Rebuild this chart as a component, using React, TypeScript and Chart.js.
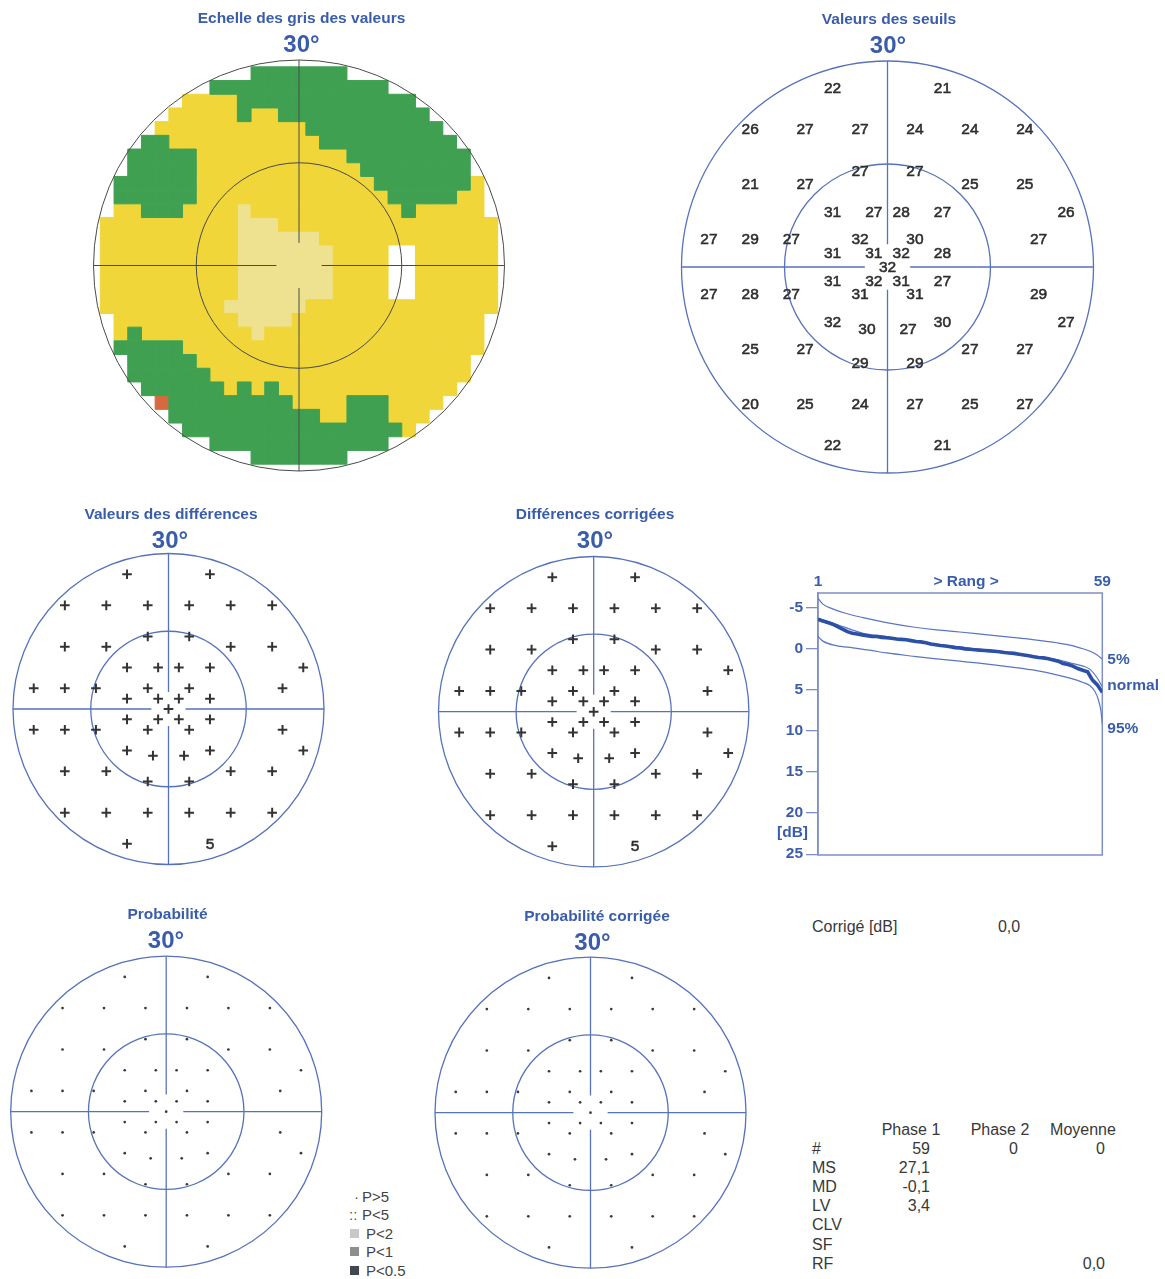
import React, { useEffect, useRef } from "react";
import { Chart, registerables } from "chart.js";

Chart.register(...registerables);

const FONT = '"Liberation Sans", Arial, Helvetica, sans-serif';
const TITLE_BLUE = "#3a5dab";
const LINE_BLUE = "#5672ba";
const INK = "#2e2e2e";
const FRAME = "#7d90c8";
const BEBIE_THIN = "#5a76c0";
const BEBIE_THICK = "#2c50a6";

// ---- 59-point test pattern (degrees) ----
const POINT_X = [
  -8, 8,
  -20, -12, -4, 4, 12, 20,
  -4, 4,
  -20, -12, 12, 20,
  -8, -2, 2, 8, 26,
  -26, -20, -14, -4, 4, 22,
  -8, -2, 2, 8,
  0,
  -8, -2, 2, 8,
  -26, -20, -14, -4, 4, 22,
  -8, 8, 26,
  -3, 3,
  -20, -12, 12, 20,
  -4, 4,
  -20, -12, -4, 4, 12, 20,
  -8, 8,
];
const POINT_Y = [
  26, 26,
  20, 20, 20, 20, 20, 20,
  14, 14,
  12, 12, 12, 12,
  8, 8, 8, 8, 8,
  4, 4, 4, 4, 4, 4,
  2, 2, 2, 2,
  0,
  -2, -2, -2, -2,
  -4, -4, -4, -4, -4, -4,
  -8, -8, -8,
  -9, -9,
  -12, -12, -12, -12,
  -14, -14,
  -20, -20, -20, -20, -20, -20,
  -26, -26,
];
const THRESHOLDS = [
  22, 21,
  26, 27, 27, 24, 24, 24,
  27, 27,
  21, 27, 25, 25,
  31, 27, 28, 27, 26,
  27, 29, 27, 32, 30, 27,
  31, 31, 32, 28,
  32,
  31, 32, 31, 27,
  27, 28, 27, 31, 31, 29,
  32, 30, 27,
  30, 27,
  25, 27, 27, 27,
  29, 29,
  20, 25, 24, 27, 25, 27,
  22, 21,
];
const DIFFERENCES = [
  "+", "+",
  "+", "+", "+", "+", "+", "+",
  "+", "+",
  "+", "+", "+", "+",
  "+", "+", "+", "+", "+",
  "+", "+", "+", "+", "+", "+",
  "+", "+", "+", "+",
  "+",
  "+", "+", "+", "+",
  "+", "+", "+", "+", "+", "+",
  "+", "+", "+",
  "+", "+",
  "+", "+", "+", "+",
  "+", "+",
  "+", "+", "+", "+", "+", "+",
  "+", "5",
];
const CORRECTED_DIFFERENCES = [
  "+", "+",
  "+", "+", "+", "+", "+", "+",
  "+", "+",
  "+", "+", "+", "+",
  "+", "+", "+", "+", "+",
  "+", "+", "+", "+", "+", "+",
  "+", "+", "+", "+",
  "+",
  "+", "+", "+", "+",
  "+", "+", "+", "+", "+", "+",
  "+", "+", "+",
  "+", "+",
  "+", "+", "+", "+",
  "+", "+",
  "+", "+", "+", "+", "+", "+",
  "+", "5",
];
const PROBABILITY = [
  "·", "·",
  "·", "·", "·", "·", "·", "·",
  "·", "·",
  "·", "·", "·", "·",
  "·", "·", "·", "·", "·",
  "·", "·", "·", "·", "·", "·",
  "·", "·", "·", "·",
  "·",
  "·", "·", "·", "·",
  "·", "·", "·", "·", "·", "·",
  "·", "·", "·",
  "·", "·",
  "·", "·", "·", "·",
  "·", "·",
  "·", "·", "·", "·", "·", "·",
  "·", "·",
];
const CORRECTED_PROBABILITY = PROBABILITY.slice();

// ---- colour scale map: run-length rows, 2° cells, x from -30 to 30 ----
const GRAY_CELL_DEG = 2;
const GRAY_COL_START = -30;
const GRAY_ROW_Y = [28, 26, 24, 22, 20, 18, 16, 14, 12, 10, 8, 6, 4, 2, 0, -2, -4, -6, -8, -10, -12, -14, -16, -18, -20, -22, -24, -26, -28];
const GRAY_ROWS_RLE = [
  "12.7G12.",
  "9.13G9.",
  "7.4Y13G7.",
  "6.5Y1G2Y11G6.",
  "5.11Y10G5.",
  "4.2G11Y10G4.",
  "3.5G11Y9G3.",
  "3.5G12Y8G3.",
  "2.6G13Y7G1Y2.",
  "2.6G14Y5G2Y2.",
  "2.2Y3G4Y1L11Y1G5Y2.",
  "1.10Y3L16Y1.",
  "1.10Y6L13Y1.",
  "1.10Y7L4Y2W6Y1.",
  "1.10Y7L4Y2W6Y1.",
  "1.10Y7L4Y2W6Y1.",
  "1.10Y7L4Y2W6Y1.",
  "1.9Y6L14Y1.",
  "2.9Y4L14Y2.",
  "2.1Y1G8Y1L16Y2.",
  "2.5G22Y2.",
  "3.5G20Y3.",
  "3.6G19Y3.",
  "4.6G1Y1G1Y1G13Y4.",
  "5.1O9G4Y3G4Y5.",
  "6.11G2Y3G3Y6.",
  "7.16G1Y7.",
  "9.13G9.",
  "12.7G12.",
];
const GRAY_COLORS: Record<string, string> = {
  G: "#40a052",
  Y: "#f1d63a",
  L: "#eee290",
  O: "#d8683f",
  W: "#ffffff",
};

const OUTER_DEG = 30;
const INNER_DEG = 15;
const AXIS_GAP_DEG = 3.3;

// ---- Bebie curve ----
const BEBIE_P5_RANK = [1, 2, 4.1, 6.8, 10.2, 15, 20.4, 25.2, 29.9, 34.7, 40.1, 45.6, 49.7, 52.4, 54.4, 56.5, 57.8, 59];
const BEBIE_P5_DB = [-6.15, -5.45, -4.84, -4.3, -3.8, -3.2, -2.66, -2.3, -2.05, -1.76, -1.43, -1.07, -0.74, -0.45, -0.12, 0.29, 0.7, 1.23];
const BEBIE_NORMAL_RANK = [1, 4.7, 10.2, 15, 20.4, 25.2, 29.9, 34.7, 40.1, 45.6, 49.7, 52.4, 55.1, 56.5, 57.8, 59];
const BEBIE_NORMAL_DB = [-3.7, -3.0, -1.9, -1.5, -0.95, -0.5, -0.25, 0.16, 0.57, 0.98, 1.3, 1.7, 2.1, 2.5, 3.4, 4.6];
const BEBIE_P95_RANK = [1, 2, 4.7, 8.1, 11.5, 15, 20.4, 25.2, 29.9, 34.7, 40.1, 45.6, 49.7, 52.4, 55.1, 56.5, 57.5, 58.2, 58.7, 59];
const BEBIE_P95_DB = [-1.5, -0.94, -0.4, -0.12, 0.16, 0.5, 0.9, 1.23, 1.5, 1.8, 2.2, 2.66, 3.16, 3.57, 4.1, 4.5, 5.2, 6.2, 7.5, 9.1];
const BEBIE_PATIENT_DB = [
  -3.6, -3.4, -3.2, -3.0, -2.7, -2.4, -2.1, -1.9, -1.8, -1.7,
  -1.6, -1.5, -1.5, -1.4, -1.35, -1.3, -1.2, -1.15, -1.1, -1.0,
  -0.9, -0.85, -0.75, -0.6, -0.5, -0.4, -0.35, -0.25, -0.15, -0.1,
  0.0, 0.05, 0.1, 0.15, 0.2, 0.25, 0.3, 0.35, 0.45, 0.5,
  0.55, 0.65, 0.75, 0.85, 0.95, 1.05, 1.1, 1.2, 1.35, 1.5,
  1.8, 1.9, 2.1, 2.4, 2.6, 2.8, 3.8, 4.4, 5.3,
];
const BEBIE_RANKS = BEBIE_PATIENT_DB.map((_, i) => i + 1);
const BEBIE_Y_TICKS = [-5, 0, 5, 10, 15, 20, 25];
const BEBIE_TOP_TICKS = [1, 59];
const BEBIE_CURVE_LABELS = ["5%", "normal", "95%"];
const BEBIE_LABEL_DY = [0.5, -1, 5];

// ---- legend & statistics ----
const LEGEND_TEXT = ["P>5", "P<5", "P<2", "P<1", "P<0.5"];
const LEGEND_SYMBOL = ["·", "::", "", "", ""];
const LEGEND_SWATCH = ["", "", "#c8c8c8", "#8e8e8e", "#414852"];

const CORRECTED_LABEL = "Corrigé [dB]";
const CORRECTED_VALUE = "0,0";
const STAT_COLUMNS = ["Phase 1", "Phase 2", "Moyenne"];
const STAT_ROWS = ["#", "MS", "MD", "LV", "CLV", "SF", "RF"];
const STAT_PHASE1 = ["59", "27,1", "-0,1", "3,4", "", "", ""];
const STAT_PHASE2 = ["0", "", "", "", "", "", ""];
const STAT_MEAN = ["0", "", "", "", "", "", "0,0"];

// ---------------------------------------------------------------

type PolarKind = "gray" | "values" | "symbols" | "dots";
type PolarSpec = {
  cx: number; cy: number; r: number;
  title: string; titleX: number; titleY: number;
  degX: number; degY: number;
  kind: PolarKind;
  labels?: (string | number)[];
  lineColor: string; lineWidth: number;
};

function parseRle(row: string): string {
  let out = "";
  row.replace(/(\d+)([.GYLOW])/g, (_m: string, n: string, c: string) => {
    out += c.repeat(Number(n));
    return "";
  });
  return out;
}

function patternPoints() {
  return POINT_X.map((x, i) => ({ x, y: POINT_Y[i] }));
}

function buildDatasets(spec: PolarSpec): any[] {
  const pts = patternPoints();
  const labels = spec.labels || [];
  if (spec.kind === "gray") {
    const cells: Record<string, { x: number; y: number }[]> = {};
    GRAY_ROWS_RLE.forEach((rle, j) => {
      parseRle(rle).split("").forEach((code, i) => {
        if (code === ".") return;
        if (!cells[code]) cells[code] = [];
        cells[code].push({ x: GRAY_COL_START + i * GRAY_CELL_DEG, y: GRAY_ROW_Y[j] });
      });
    });
    const radius = (ctx: any) => {
      const s = ctx.chart.scales.x;
      return Math.abs(s.getPixelForValue(GRAY_CELL_DEG) - s.getPixelForValue(0)) / Math.SQRT2;
    };
    return Object.keys(cells).map((code) => ({
      label: code,
      data: cells[code],
      pointStyle: "rect",
      pointRadius: radius,
      pointHoverRadius: radius,
      backgroundColor: GRAY_COLORS[code],
      borderColor: GRAY_COLORS[code],
      borderWidth: 1,
    }));
  }
  if (spec.kind === "values") {
    return [{ data: pts, pointRadius: 0, pointHoverRadius: 0, pointLabels: labels.map(String) }];
  }
  if (spec.kind === "symbols") {
    const crossIdx = labels.map((l, i) => (l === "+" ? i : -1)).filter((i) => i >= 0);
    const textIdx = labels.map((l, i) => (l !== "+" ? i : -1)).filter((i) => i >= 0);
    return [
      {
        data: crossIdx.map((i) => pts[i]),
        pointStyle: "cross",
        pointRadius: 4.8,
        pointHoverRadius: 4.8,
        borderColor: "#333",
        borderWidth: 2,
      },
      {
        data: textIdx.map((i) => pts[i]),
        pointRadius: 0,
        pointHoverRadius: 0,
        pointLabels: textIdx.map((i) => String(labels[i])),
      },
    ];
  }
  const dotIdx = labels.map((l, i) => (l === "·" ? i : -1)).filter((i) => i >= 0);
  return [
    {
      data: dotIdx.map((i) => pts[i]),
      pointStyle: "circle",
      pointRadius: 1.35,
      pointHoverRadius: 1.35,
      backgroundColor: "#3a3a3a",
      borderWidth: 0,
    },
  ];
}

function PolarPlot(spec: PolarSpec) {
  const ref = useRef<HTMLCanvasElement>(null);
  const PAD = 12;
  const left = Math.floor(spec.cx - spec.r - PAD);
  const top = Math.floor(spec.titleY - 14);
  const width = Math.ceil(spec.cx + spec.r + PAD) - left;
  const height = Math.ceil(spec.cy + spec.r + PAD) - top;

  useEffect(() => {
    const drawAxes = (chart: any) => {
      const ctx = chart.ctx;
      const xs = chart.scales.x;
      const ys = chart.scales.y;
      const cx = xs.getPixelForValue(0);
      const cy = ys.getPixelForValue(0);
      const R = xs.getPixelForValue(OUTER_DEG) - cx;
      const Ri = xs.getPixelForValue(INNER_DEG) - cx;
      const g = xs.getPixelForValue(AXIS_GAP_DEG) - cx;
      ctx.save();
      ctx.strokeStyle = spec.lineColor;
      ctx.lineWidth = spec.lineWidth;
      ctx.beginPath();
      ctx.arc(cx, cy, R, 0, Math.PI * 2);
      ctx.stroke();
      ctx.beginPath();
      ctx.arc(cx, cy, Ri, 0, Math.PI * 2);
      ctx.stroke();
      ctx.beginPath();
      ctx.moveTo(cx - R, cy);
      ctx.lineTo(cx - g, cy);
      ctx.moveTo(cx + g, cy);
      ctx.lineTo(cx + R, cy);
      ctx.moveTo(cx, cy - R);
      ctx.lineTo(cx, cy - g);
      ctx.moveTo(cx, cy + g);
      ctx.lineTo(cx, cy + R);
      ctx.stroke();
      ctx.restore();
    };
    const decor = {
      id: "polarDecor",
      beforeDatasetsDraw(chart: any) {
        if (spec.kind !== "gray") drawAxes(chart);
      },
      afterDatasetsDraw(chart: any) {
        if (spec.kind === "gray") drawAxes(chart);
        const ctx = chart.ctx;
        ctx.save();
        ctx.font = `15.5px ${FONT}`;
        ctx.fillStyle = INK;
        ctx.strokeStyle = INK;
        ctx.lineWidth = 0.55;
        ctx.textAlign = "center";
        ctx.textBaseline = "middle";
        chart.data.datasets.forEach((ds: any, di: number) => {
          if (!ds.pointLabels) return;
          chart.getDatasetMeta(di).data.forEach((el: any, i: number) => {
            ctx.fillText(ds.pointLabels[i], el.x, el.y + 0.5);
            ctx.strokeText(ds.pointLabels[i], el.x, el.y + 0.5);
          });
        });
        ctx.restore();
      },
      afterDraw(chart: any) {
        const ctx = chart.ctx;
        ctx.save();
        ctx.fillStyle = TITLE_BLUE;
        ctx.textAlign = "center";
        ctx.textBaseline = "middle";
        ctx.font = `bold 15.5px ${FONT}`;
        ctx.fillText(spec.title, spec.titleX - left, spec.titleY - top);
        ctx.font = `bold 24px ${FONT}`;
        ctx.fillText("30°", spec.degX - left, spec.degY - top);
        ctx.restore();
      },
    };
    const chart = new Chart(ref.current as HTMLCanvasElement, {
      type: "scatter",
      data: { datasets: buildDatasets(spec) },
      options: {
        animation: false,
        responsive: false,
        events: [],
        layout: {
          padding: {
            left: spec.cx - spec.r - left,
            right: left + width - (spec.cx + spec.r),
            top: spec.cy - spec.r - top,
            bottom: top + height - (spec.cy + spec.r),
          },
        },
        scales: {
          x: { type: "linear", min: -OUTER_DEG, max: OUTER_DEG, display: false },
          y: { type: "linear", min: -OUTER_DEG, max: OUTER_DEG, display: false },
        },
        plugins: { legend: { display: false }, tooltip: { enabled: false } },
      } as any,
      plugins: [decor],
    });
    return () => chart.destroy();
  }, []);

  return (
    <canvas
      ref={ref}
      width={width}
      height={height}
      style={{ position: "absolute", left, top, width, height }}
    />
  );
}

function BebieCurve() {
  const ref = useRef<HTMLCanvasElement>(null);
  const L = 770, T = 560, W = 395, H = 310;
  useEffect(() => {
    const toPts = (xs: number[], ys: number[]) => xs.map((x, i) => ({ x, y: ys[i] }));
    const thin = (label: string, xs: number[], ys: number[]) => ({
      label,
      data: toPts(xs, ys),
      borderColor: BEBIE_THIN,
      borderWidth: 1.2,
      pointRadius: 0,
      cubicInterpolationMode: "monotone",
      fill: false,
      order: 1,
    });
    const decor = {
      id: "bebieDecor",
      beforeDatasetsDraw(chart: any) {
        const { ctx, chartArea: a } = chart;
        ctx.save();
        ctx.strokeStyle = FRAME;
        ctx.lineWidth = 1.5;
        ctx.strokeRect(a.left, a.top, a.right - a.left, a.bottom - a.top);
        ctx.restore();
      },
      afterDatasetsDraw(chart: any) {
        const { ctx, chartArea: a } = chart;
        ctx.save();
        ctx.fillStyle = TITLE_BLUE;
        ctx.font = `bold 15.5px ${FONT}`;
        ctx.textBaseline = "middle";
        ctx.textAlign = "left";
        BEBIE_CURVE_LABELS.forEach((lab, i) => {
          const els = chart.getDatasetMeta(i).data;
          const last = els[els.length - 1];
          ctx.fillText(lab, a.right + 5, last.y + BEBIE_LABEL_DY[i]);
        });
        ctx.textAlign = "center";
        ctx.fillText("> Rang >", (a.left + a.right) / 2 + 6, a.top - 11.5);
        ctx.textAlign = "right";
        ctx.fillText("[dB]", a.left - 10, chart.scales.y.getPixelForValue(22.4));
        ctx.restore();
      },
    };
    const tickFont = { family: FONT, size: 15.5, weight: "bold" };
    const chart = new Chart(ref.current as HTMLCanvasElement, {
      type: "line",
      data: {
        datasets: [
          thin(BEBIE_CURVE_LABELS[0], BEBIE_P5_RANK, BEBIE_P5_DB),
          thin(BEBIE_CURVE_LABELS[1], BEBIE_NORMAL_RANK, BEBIE_NORMAL_DB),
          thin(BEBIE_CURVE_LABELS[2], BEBIE_P95_RANK, BEBIE_P95_DB),
          {
            label: "patient",
            data: toPts(BEBIE_RANKS, BEBIE_PATIENT_DB),
            borderColor: BEBIE_THICK,
            borderWidth: 3.6,
            pointRadius: 0,
            tension: 0,
            fill: false,
            order: 0,
          },
        ],
      },
      options: {
        animation: false,
        responsive: false,
        events: [],
        layout: { padding: { left: 0, top: 0, right: 62.7, bottom: 15 } },
        plugins: { legend: { display: false }, tooltip: { enabled: false } },
        scales: {
          x: { type: "linear", min: 1, max: 59, display: false },
          xTop: {
            type: "linear",
            axis: "x",
            position: "top",
            min: 1,
            max: 59,
            afterBuildTicks: (s: any) => {
              s.ticks = BEBIE_TOP_TICKS.map((v) => ({ value: v }));
            },
            afterFit: (s: any) => {
              s.height = 33;
            },
            grid: { display: false, drawTicks: false },
            border: { display: false },
            ticks: { color: TITLE_BLUE, font: tickFont, padding: 2, autoSkip: false, maxRotation: 0 },
          },
          y: {
            type: "linear",
            reverse: true,
            min: -6.8,
            max: 25.1,
            afterBuildTicks: (s: any) => {
              s.ticks = BEBIE_Y_TICKS.map((v) => ({ value: v }));
            },
            afterFit: (s: any) => {
              s.width = 48;
            },
            grid: { drawOnChartArea: false, drawTicks: true, tickLength: 12, color: FRAME, lineWidth: 1.3 },
            border: { display: true, color: FRAME, width: 1.5 },
            ticks: { color: TITLE_BLUE, font: tickFont, padding: 3 },
          },
        },
      } as any,
      plugins: [decor],
    });
    return () => chart.destroy();
  }, []);
  return (
    <canvas ref={ref} width={W} height={H} style={{ position: "absolute", left: L, top: T, width: W, height: H }} />
  );
}

function Txt(props: { x: number; y: number; align?: "left" | "center" | "right"; size?: number; color?: string; children: React.ReactNode }) {
  const align = props.align || "left";
  const tx = align === "left" ? "0" : align === "center" ? "-50%" : "-100%";
  return (
    <div
      style={{
        position: "absolute",
        left: props.x,
        top: props.y,
        transform: `translate(${tx}, -50%)`,
        whiteSpace: "nowrap",
        lineHeight: 1.15,
        fontFamily: FONT,
        fontSize: props.size || 16,
        color: props.color || "#383838",
      }}
    >
      {props.children}
    </div>
  );
}

function Legend() {
  const ys = [1197, 1215, 1234, 1252, 1271];
  return (
    <>
      {LEGEND_TEXT.map((t, i) => (
        <React.Fragment key={t}>
          {LEGEND_SWATCH[i] ? (
            <div style={{ position: "absolute", left: 350, top: ys[i] - 5, width: 9, height: 9, background: LEGEND_SWATCH[i] }} />
          ) : (
            <Txt x={i === 0 ? 354 : 349} y={ys[i]} size={15} color="#555">{LEGEND_SYMBOL[i]}</Txt>
          )}
          <Txt x={i < 2 ? 362 : 366} y={ys[i]} size={15} color="#444">{t}</Txt>
        </React.Fragment>
      ))}
    </>
  );
}

function Stats() {
  const rowY = [1149, 1168, 1187, 1206, 1225, 1245, 1264];
  const colCenter = [911, 1000, 1083];
  const colRight = [930, 1018, 1105];
  const cols = [STAT_PHASE1, STAT_PHASE2, STAT_MEAN];
  return (
    <>
      <Txt x={812} y={927}>{CORRECTED_LABEL}</Txt>
      <Txt x={1009} y={927} align="center">{CORRECTED_VALUE}</Txt>
      {STAT_COLUMNS.map((c, i) => (
        <Txt key={c} x={colCenter[i]} y={1130} align="center">{c}</Txt>
      ))}
      {STAT_ROWS.map((r, j) => (
        <React.Fragment key={r}>
          <Txt x={812} y={rowY[j]}>{r}</Txt>
          {cols.map((col, i) =>
            col[j] ? (
              <Txt key={i} x={colRight[i]} y={rowY[j]} align="right">{col[j]}</Txt>
            ) : null
          )}
        </React.Fragment>
      ))}
    </>
  );
}

export default function App() {
  return (
    <div
      style={{
        position: "absolute",
        left: 0,
        top: 0,
        width: 1165,
        height: 1279,
        background: "#ffffff",
        overflow: "hidden",
      }}
    >
      <PolarPlot
        cx={299} cy={265.5} r={205.5}
        title="Echelle des gris des valeurs" titleX={301.5} titleY={18.5}
        degX={301.5} degY={45}
        kind="gray" lineColor="#4a4a4a" lineWidth={1}
      />
      <PolarPlot
        cx={887.5} cy={267} r={206}
        title="Valeurs des seuils" titleX={889} titleY={20}
        degX={888} degY={46.5}
        kind="values" labels={THRESHOLDS} lineColor={LINE_BLUE} lineWidth={1.3}
      />
      <PolarPlot
        cx={168.5} cy={709} r={155.5}
        title="Valeurs des différences" titleX={171} titleY={515}
        degX={170} degY={541.5}
        kind="symbols" labels={DIFFERENCES} lineColor={LINE_BLUE} lineWidth={1.3}
      />
      <PolarPlot
        cx={593.7} cy={711.7} r={155.2}
        title="Différences corrigées" titleX={595} titleY={515}
        degX={595} degY={541.5}
        kind="symbols" labels={CORRECTED_DIFFERENCES} lineColor={LINE_BLUE} lineWidth={1.3}
      />
      <PolarPlot
        cx={166.2} cy={1111.7} r={155.5}
        title="Probabilité" titleX={167.5} titleY={915}
        degX={166} degY={941.5}
        kind="dots" labels={PROBABILITY} lineColor={LINE_BLUE} lineWidth={1.3}
      />
      <PolarPlot
        cx={590.5} cy={1112.7} r={155.5}
        title="Probabilité corrigée" titleX={597} titleY={917}
        degX={592.5} degY={943}
        kind="dots" labels={CORRECTED_PROBABILITY} lineColor={LINE_BLUE} lineWidth={1.3}
      />
      <BebieCurve />
      <Legend />
      <Stats />
    </div>
  );
}
